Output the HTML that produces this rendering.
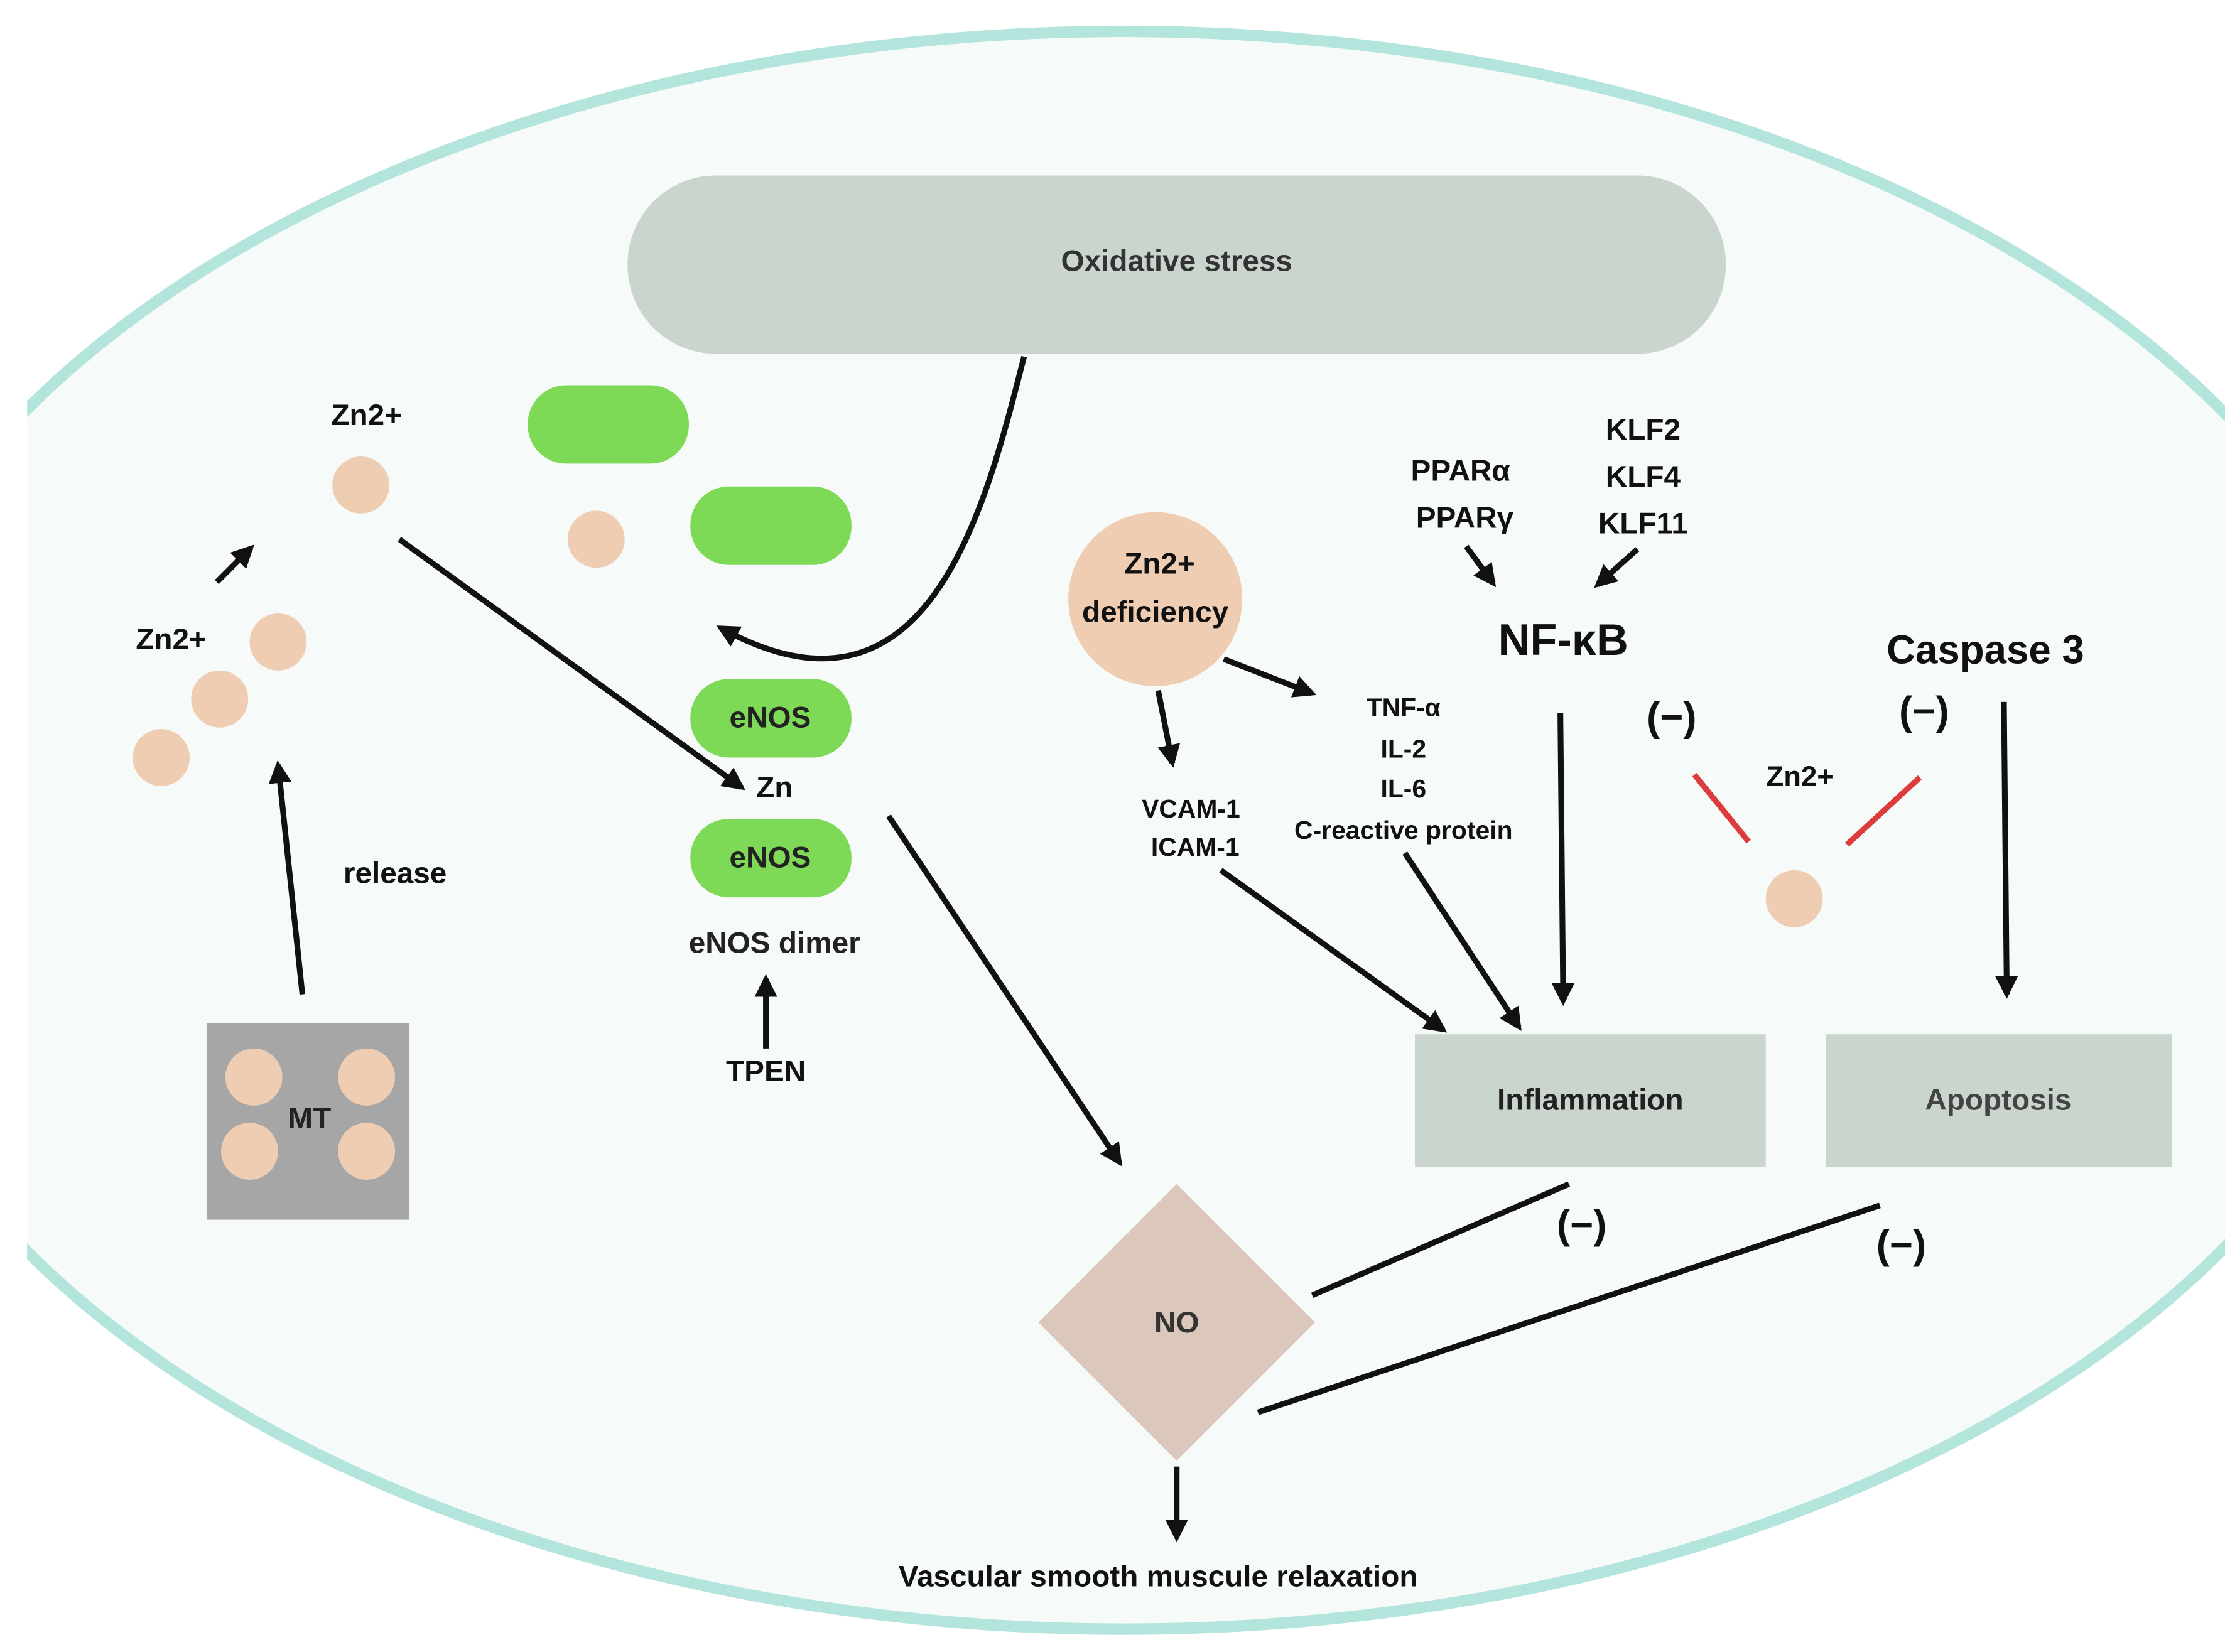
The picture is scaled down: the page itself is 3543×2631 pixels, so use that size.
<!DOCTYPE html>
<html><head><style>html,body{margin:0;padding:0;background:#fff;}svg{display:block;}</style></head>
<body>
<svg width="3543" height="2631" viewBox="0 0 1560 1158" preserveAspectRatio="none" xmlns="http://www.w3.org/2000/svg" font-family="Liberation Sans, sans-serif" font-weight="bold">
<defs>
<marker id="a" viewBox="0 0 10 10" refX="8" refY="5" markerWidth="4" markerHeight="4" orient="auto"><path d="M0,0 L10,5 L0,10 z" fill="#111"/></marker>
<clipPath id="c"><rect x="19" y="0" width="1541" height="1158"/></clipPath>
</defs>
<rect width="1560" height="1158" fill="#fff"/>
<g clip-path="url(#c)">
<ellipse cx="788" cy="582" rx="905" ry="560" fill="#f6fbfa" stroke="#b4e5dd" stroke-width="8"/>
</g>
<rect x="440" y="123" width="770" height="125" rx="62" fill="#cad6cd"/>
<text x="825" y="190" font-size="21" text-anchor="middle" fill="#333">Oxidative stress</text>
<rect x="370" y="270" width="113" height="55" rx="27" fill="#7ed957"/>
<rect x="484" y="341" width="113" height="55" rx="27" fill="#7ed957"/>
<circle cx="418" cy="378" r="20" fill="#eecdb3"/>
<rect x="484" y="476" width="113" height="55" rx="27" fill="#7ed957"/>
<text x="540" y="510" font-size="21" text-anchor="middle" fill="#222">eNOS</text>
<rect x="484" y="574" width="113" height="55" rx="27" fill="#7ed957"/>
<text x="540" y="608" font-size="21" text-anchor="middle" fill="#222">eNOS</text>
<text x="543" y="559" font-size="21" text-anchor="middle" fill="#111">Zn</text>
<text x="543" y="668" font-size="21" text-anchor="middle" fill="#222">eNOS dimer</text>
<text x="537" y="758" font-size="21" text-anchor="middle" fill="#111">TPEN</text>
<g stroke="#111" stroke-width="4" fill="none" marker-end="url(#a)">
<path d="M718,250 C690,360 650,520 505,440"/>
<line x1="537" y1="735" x2="537" y2="686"/>
<line x1="280" y1="378" x2="520" y2="552"/>
<line x1="623" y1="572" x2="785" y2="815"/>
<line x1="212" y1="697" x2="195" y2="536"/>
<line x1="152" y1="408" x2="176" y2="384"/>
<line x1="812" y1="484" x2="822" y2="535"/>
<line x1="858" y1="462" x2="920" y2="486"/>
<line x1="1028" y1="383" x2="1047" y2="409"/>
<line x1="1148" y1="385" x2="1120" y2="410"/>
<line x1="1094" y1="500" x2="1096" y2="702"/>
<line x1="1405" y1="492" x2="1407" y2="697"/>
<line x1="856" y1="610" x2="1012" y2="722"/>
<line x1="985" y1="598" x2="1065" y2="720"/>
<line x1="825" y1="1028" x2="825" y2="1078"/>
</g>
<g stroke="#111" stroke-width="4">
<line x1="920" y1="908" x2="1100" y2="830"/>
<line x1="882" y1="990" x2="1318" y2="845"/>
</g>
<g stroke="#dc3c3c" stroke-width="4">
<line x1="1188" y1="543" x2="1226" y2="590"/>
<line x1="1346" y1="545" x2="1295" y2="592"/>
</g>
<circle cx="253" cy="340" r="20" fill="#eecdb3"/>
<circle cx="195" cy="450" r="20" fill="#eecdb3"/>
<circle cx="154" cy="490" r="20" fill="#eecdb3"/>
<circle cx="113" cy="531" r="20" fill="#eecdb3"/>
<circle cx="1258" cy="630" r="20" fill="#eecdb3"/>
<text x="257" y="298" font-size="21" text-anchor="middle" fill="#111">Zn2+</text>
<text x="120" y="455" font-size="21" text-anchor="middle" fill="#111">Zn2+</text>
<text x="277" y="619" font-size="21" text-anchor="middle" fill="#111">release</text>
<rect x="145" y="717" width="142" height="138" fill="#a6a6a6"/>
<circle cx="178" cy="755" r="20" fill="#eecdb3"/>
<circle cx="257" cy="755" r="20" fill="#eecdb3"/>
<circle cx="175" cy="807" r="20" fill="#eecdb3"/>
<circle cx="257" cy="807" r="20" fill="#eecdb3"/>
<text x="217" y="791" font-size="21" text-anchor="middle" fill="#222">MT</text>
<circle cx="810" cy="420" r="61" fill="#eecdb3"/>
<text x="813" y="402" font-size="21" text-anchor="middle" fill="#111">Zn2+</text>
<text x="810" y="436" font-size="21" text-anchor="middle" fill="#111">deficiency</text>
<text x="1024" y="337" font-size="21" text-anchor="middle" fill="#111">PPARα</text>
<text x="1027" y="370" font-size="21" text-anchor="middle" fill="#111">PPARγ</text>
<text x="1152" y="308" font-size="21" text-anchor="middle" fill="#111">KLF2</text>
<text x="1152" y="341" font-size="21" text-anchor="middle" fill="#111">KLF4</text>
<text x="1152" y="374" font-size="21" text-anchor="middle" fill="#111">KLF11</text>
<text x="1096" y="459" font-size="31" text-anchor="middle" fill="#111">NF-κB</text>
<text x="1392" y="465" font-size="28" text-anchor="middle" fill="#111">Caspase 3</text>
<text x="1172" y="512" font-size="28" text-anchor="middle" fill="#111">(−)</text>
<text x="1349" y="508" font-size="28" text-anchor="middle" fill="#111">(−)</text>
<text x="1262" y="551" font-size="20" text-anchor="middle" fill="#111">Zn2+</text>
<text x="984" y="502" font-size="18" text-anchor="middle" fill="#111">TNF-α</text>
<text x="984" y="531" font-size="18" text-anchor="middle" fill="#111">IL-2</text>
<text x="984" y="559" font-size="18" text-anchor="middle" fill="#111">IL-6</text>
<text x="984" y="588" font-size="18" text-anchor="middle" fill="#111">C-reactive protein</text>
<text x="835" y="573" font-size="18" text-anchor="middle" fill="#111">VCAM-1</text>
<text x="838" y="600" font-size="18" text-anchor="middle" fill="#111">ICAM-1</text>
<rect x="992" y="725" width="246" height="93" fill="#cad6cd"/>
<text x="1115" y="778" font-size="21" text-anchor="middle" fill="#222">Inflammation</text>
<rect x="1280" y="725" width="243" height="93" fill="#cad6cd"/>
<text x="1401" y="778" font-size="21" text-anchor="middle" fill="#444">Apoptosis</text>
<text x="1109" y="868" font-size="28" text-anchor="middle" fill="#111">(−)</text>
<text x="1333" y="882" font-size="28" text-anchor="middle" fill="#111">(−)</text>
<polygon points="825,830 922,927 825,1024 728,927" fill="#dcc7bc"/>
<text x="825" y="934" font-size="21" text-anchor="middle" fill="#333">NO</text>
<text x="812" y="1112" font-size="21" text-anchor="middle" fill="#111">Vascular smooth muscule relaxation</text>
</svg>
</body></html>
